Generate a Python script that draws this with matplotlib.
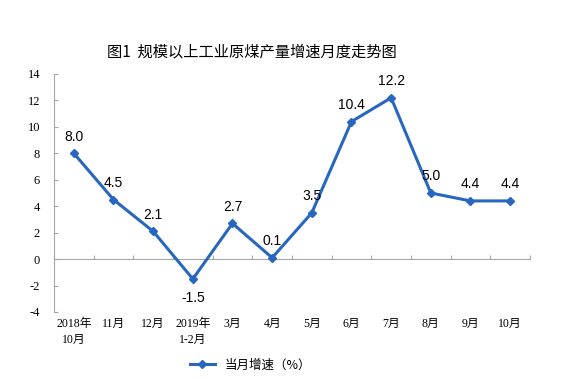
import matplotlib.pyplot as plt
import numpy as np
from matplotlib.ticker import FixedLocator, MultipleLocator
import matplotlib.transforms as mtransforms

plt.rcParams['font.family'] = ['Liberation Sans', 'Noto Sans CJK SC', 'DejaVu Sans']
plt.rcParams['axes.unicode_minus'] = False

months = ['2018年\n10月', '11月', '12月', '2019年\n1-2月', '3月', '4月', '5月',
          '6月', '7月', '8月', '9月', '10月']
growth = [8.0, 4.5, 2.1, -1.5, 2.7, 0.1, 3.5, 10.4, 12.2, 5.0, 4.4, 4.4]
label_below = [False, False, False, True, False, False, False, False, False, False, False, False]

blue = '#2867C0'
gray = '#A6A6A6'

fig = plt.figure(figsize=(5.69, 3.79), dpi=100)
ax = fig.add_axes([0.0949, 0.1768, 0.8365, 0.628])

x = np.arange(len(months))
ax.plot(x, growth, color=blue, lw=2.2, marker='D', ms=4.5, label='当月增速（%）', zorder=3)

for xi, v, below in zip(x, growth, label_below):
    if below:
        ax.annotate(f'{v:.1f}', (xi, v), xytext=(0, -9), textcoords='offset points',
                    ha='center', va='top', fontsize=10)
    else:
        ax.annotate(f'{v:.1f}', (xi, v), xytext=(0, 7), textcoords='offset points',
                    ha='center', va='bottom', fontsize=10)

ax.set_xlim(-0.5, len(months) - 0.5)
ax.set_ylim(-4, 14)
ax.yaxis.set_major_locator(MultipleLocator(2))

for s in ['top', 'right']:
    ax.spines[s].set_visible(False)
ax.spines['left'].set_color(gray)
ax.spines['bottom'].set_color(gray)
ax.spines['bottom'].set_position(('data', 0))

ax.xaxis.set_major_locator(FixedLocator(np.arange(-0.5, len(months), 1.0)))
ax.xaxis.set_major_formatter(plt.NullFormatter())
ax.tick_params(axis='x', direction='in', length=3, color=gray)
ax.tick_params(axis='y', direction='in', length=3, color=gray, labelsize=9, pad=10)
for lab in ax.get_yticklabels():
    lab.set_family(['Liberation Serif', 'Noto Sans CJK SC'])

trans = mtransforms.blended_transform_factory(ax.transData, ax.transAxes)
for xi, m in zip(x, months):
    ax.text(xi, -0.025, m, transform=trans, ha='center', va='top', fontsize=8.5,
            linespacing=1.4, family=['Liberation Serif', 'Noto Sans CJK SC'])

fig.text(0.443, 0.862, '图1  规模以上工业原煤产量增速月度走势图', ha='center', va='center',
         fontsize=11, family=['Noto Sans CJK SC', 'DejaVu Sans'])

fig.legend(loc='center', bbox_to_anchor=(0.44, 0.037), frameon=False,
           handlelength=2.0, prop={'family': ['Noto Sans CJK SC', 'DejaVu Sans'], 'size': 9})

fig.savefig('out.png', dpi=100)
